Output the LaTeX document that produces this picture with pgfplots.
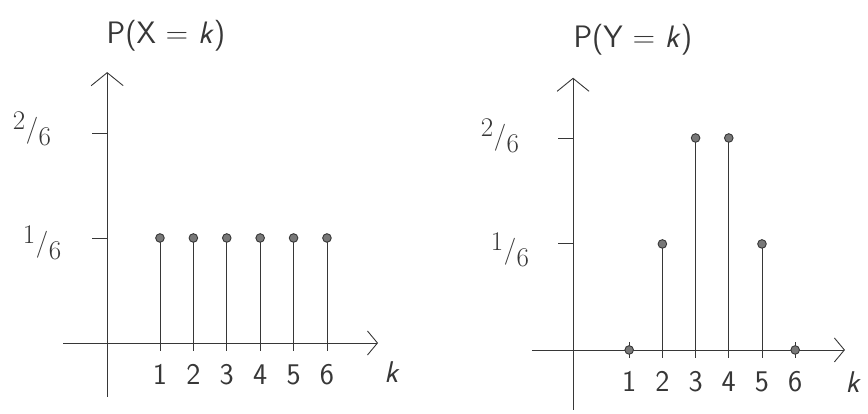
\documentclass[border=0pt]{standalone}
\usepackage{pgfplots}
\pgfplotsset{compat=1.18}
\usetikzlibrary{arrows.meta}
\definecolor{pencil}{RGB}{55,55,55}
\definecolor{lead}{RGB}{120,120,120}

% slanted fraction as used for the probability ticks
\newcommand{\sixth}[1]{{\fontsize{27}{27}\selectfont\raisebox{7pt}{#1}\kern0.5pt\raisebox{-1pt}{/}\kern0.5pt\raisebox{-9pt}{6}}}

\begin{document}
\begin{tikzpicture}[
  ax/.style={draw=pencil, line width=0.9pt},
  lbl/.style={text=pencil, font=\sffamily\fontsize{30}{30}\selectfont},
  ttl/.style={text=pencil, font=\sffamily\fontsize{31}{34}\selectfont},
  barb/.style={-{Straight Barb[length=13pt,width=32pt]}},
  barbx/.style={-{Straight Barb[length=10pt,width=24pt]}},
]
\path[use as bounding box] (0,0) rectangle (868pt,413pt);

% ---------- P(X = k) : fair die ----------
\begin{axis}[at={(63.1pt,7pt)}, anchor=south west,
  x=33.4pt, y=630pt, xmin=-1.9, xmax=7.9, ymin=-0.1, ymax=0.5,
  hide axis, clip=false]
  \draw[ax, barb] (axis cs:-0.58,-0.085) -- (axis cs:-0.58,0.43);
  \draw[ax, barbx] (axis cs:-1.9,0) -- (axis cs:7.53,0);
  \draw[ax] (axis cs:-1.03,0.1667) -- (axis cs:-0.58,0.1667);
  \draw[ax] (axis cs:-1.03,0.3333) -- (axis cs:-0.58,0.3333);
  \pgfplotsinvokeforeach{1,...,6}{
    \draw[ax] (axis cs:#1,-0.012) -- (axis cs:#1,0.012);
    \node[lbl] at (axis cs:#1,-0.05) {#1};
  }
  \node[text=pencil] at (axis cs:-2.83,0.34) {\sixth{2}};
  \node[text=pencil] at (axis cs:-2.53,0.159) {\sixth{1}};
  \node[ttl] at (axis cs:1.18,0.487) {P(X = \textit{k})};
  \node[lbl] at (axis cs:7.95,-0.046) {\textit{k}};
  \addplot[ycomb, pencil, line width=0.9pt, mark=*, mark size=4.3pt,
    mark options={draw=pencil, fill=lead, line width=0.9pt}]
    coordinates {(1,0.1667) (2,0.1667) (3,0.1667) (4,0.1667) (5,0.1667) (6,0.1667)};
\end{axis}

% ---------- P(Y = k) ----------
\begin{axis}[at={(532.9pt,5.8pt)}, anchor=south west,
  x=33.2pt, y=636pt, xmin=-1.9, xmax=7.9, ymin=-0.09, ymax=0.5,
  hide axis, clip=false]
  \draw[ax, barb] (axis cs:-0.69,-0.094) -- (axis cs:-0.69,0.428);
  \draw[ax, barbx] (axis cs:-1.93,0) -- (axis cs:7.5,0);
  \draw[ax] (axis cs:-1.14,0.1667) -- (axis cs:-0.69,0.1667);
  \draw[ax] (axis cs:-1.14,0.3333) -- (axis cs:-0.69,0.3333);
  \pgfplotsinvokeforeach{1,...,6}{
    \draw[ax] (axis cs:#1,-0.012) -- (axis cs:#1,0.012);
    \node[lbl] at (axis cs:#1,-0.05) {#1};
  }
  \node[text=pencil] at (axis cs:-2.89,0.336) {\sixth{2}};
  \node[text=pencil] at (axis cs:-2.59,0.157) {\sixth{1}};
  \node[ttl] at (axis cs:1.11,0.487) {P(Y = \textit{k})};
  \node[lbl] at (axis cs:7.75,-0.05) {\textit{k}};
  \addplot[ycomb, pencil, line width=0.9pt, mark=*, mark size=4.3pt,
    mark options={draw=pencil, fill=lead, line width=0.9pt}]
    coordinates {(1,0) (2,0.1667) (3,0.3333) (4,0.3333) (5,0.1667) (6,0)};
\end{axis}
\end{tikzpicture}
\end{document}
